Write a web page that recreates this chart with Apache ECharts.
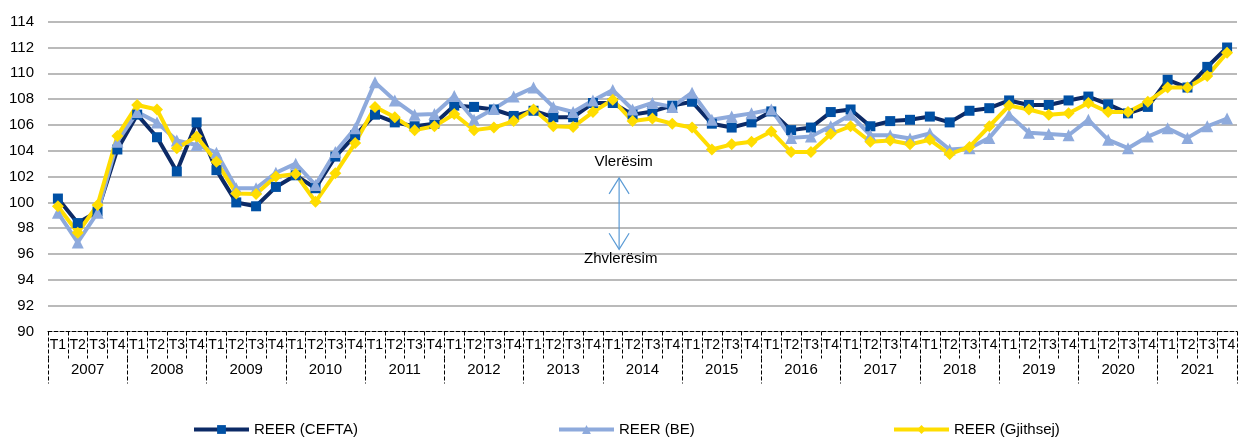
<!DOCTYPE html>
<html>
<head>
<meta charset="utf-8">
<title>REER</title>
<style>
    html, body { margin: 0; padding: 0; background: #fff; }
    .chart { width: 1240px; height: 438px; }
</style>
<script src="https://cdn.jsdelivr.net/npm/echarts@6/dist/echarts.min.js"></script>
</head>
<body>
<div class="chart"></div>
<script>
// data
var years = ["2007", "2008", "2009", "2010", "2011", "2012", "2013", "2014",
    "2015", "2016", "2017", "2018", "2019", "2020", "2021"];
var quarterNames = ["T1", "T2", "T3", "T4"];
var yTicks = [90, 92, 94, 96, 98, 100, 102, 104, 106, 108, 110, 112, 114];

var reerCefta = [
    100.3, 98.4, 99.3, 104.1,
    106.8, 105.05, 102.4, 106.2,
    102.5, 100.0, 99.7, 101.2,
    102.1, 101.1, 103.55, 105.2,
    106.8, 106.2, 105.9, 106.1,
    107.5, 107.4, 107.2, 106.7,
    107.1, 106.6, 106.6, 107.7,
    107.7, 106.8, 107.05, 107.5,
    107.8, 106.1, 105.8, 106.2,
    107.05, 105.6, 105.8, 107.0,
    107.2, 105.9, 106.3, 106.4,
    106.65, 106.2, 107.1, 107.3,
    107.9, 107.55, 107.55, 107.9,
    108.2, 107.6, 106.9, 107.4,
    109.5, 108.9, 110.5, 112.0
];
var reerBe = [
    99.2, 96.9, 99.2, 104.7,
    107.0, 106.2, 104.8, 104.45,
    103.85, 101.1, 101.1, 102.3,
    103.0, 101.35, 103.9, 105.75,
    109.3, 107.9, 106.8, 106.85,
    108.25, 106.4, 107.25, 108.2,
    108.9, 107.4, 107.0, 107.9,
    108.7, 107.2, 107.7, 107.4,
    108.5, 106.4, 106.65, 106.9,
    107.2, 105.0, 105.1, 105.9,
    106.8, 105.2, 105.2, 104.95,
    105.35, 104.1, 104.2, 105.0,
    106.8, 105.4, 105.3, 105.2,
    106.4, 104.85, 104.2, 105.1,
    105.75, 105.0, 105.9, 106.5
];
var reerTotal = [
    99.7, 97.65, 99.8, 105.15,
    107.55, 107.2, 104.2, 105.1,
    103.15, 100.7, 100.65, 102.0,
    102.2, 100.05, 102.25, 104.6,
    107.4, 106.6, 105.6, 105.9,
    106.85, 105.6, 105.8, 106.3,
    107.2, 105.9, 105.85, 107.0,
    107.95, 106.3, 106.5, 106.1,
    105.8, 104.1, 104.5, 104.7,
    105.5, 103.9, 103.9, 105.3,
    105.9, 104.7, 104.8, 104.5,
    104.85, 103.75, 104.3, 105.9,
    107.5, 107.2, 106.8, 106.9,
    107.7, 107.0, 107.0, 107.8,
    108.9, 108.9, 109.8, 111.6
];

(function() {
    var font = "'Liberation Sans', Arial, sans-serif";
    var dash = [4, 2];

    // one category per quarter, labelled T1..T4
    var quarters = [];
    years.forEach(function(y) {
        quarterNames.forEach(function(q) {
            quarters.push(q);
        });
    });

    var myChart = echarts.init(document.querySelector(".chart"));

    function seriesOf(name, data, lineColor, markColor, symbol, size) {
        return {
            name: name,
            type: "line",
            data: data,
            symbol: symbol,
            symbolSize: size,
            lineStyle: { color: lineColor, width: 4 },
            itemStyle: { color: markColor },
            emphasis: { disabled: true },
            animation: false
        };
    }

    function legendAt(name, left) {
        return {
            data: [name],
            left: left,
            top: 422,
            padding: 0,
            itemWidth: 55,
            itemHeight: 11,
            lineStyle: { width: 4 },
            textStyle: { fontFamily: font, fontSize: 15, color: "#000" }
        };
    }

    var option = {
        backgroundColor: "#fff",
        animation: false,
        grid: { left: 48, right: 3, top: 21.7, bottom: 106.5 },
        legend: [
            legendAt("REER (CEFTA)", 192),
            legendAt("REER (BE)", 557),
            legendAt("REER (Gjithsej)", 892)
        ],
        xAxis: [{
            type: "category",
            data: quarters,
            boundaryGap: true,
            axisLine: { lineStyle: { color: "#000", width: 1, type: dash } },
            axisTick: {
                show: true,
                interval: 0,
                length: 27,
                lineStyle: { color: "#000", type: dash }
            },
            axisLabel: {
                interval: 0,
                margin: 7,
                fontFamily: font,
                fontSize: 14,
                color: "#000"
            }
        }, {
            // second row: years
            type: "category",
            data: years,
            position: "bottom",
            offset: 27,
            boundaryGap: true,
            axisLine: { show: false },
            axisTick: {
                show: true,
                interval: 0,
                length: 25,
                lineStyle: { color: "#000", type: dash }
            },
            axisLabel: {
                interval: 0,
                margin: 4,
                fontFamily: font,
                fontSize: 15,
                color: "#000"
            }
        }],
        yAxis: {
            type: "value",
            min: yTicks[0],
            max: yTicks[yTicks.length - 1],
            interval: yTicks[1] - yTicks[0],
            axisLine: { show: false },
            axisTick: { show: false },
            axisLabel: {
                margin: 14,
                fontFamily: font,
                fontSize: 15,
                color: "#000"
            },
            splitLine: {
                showMinLine: false,
                lineStyle: { color: "#a3a3a3", width: 1.5 }
            }
        },
        series: [
            seriesOf("REER (CEFTA)", reerCefta, "#0c2a66", "#0050a4", "rect", 10),
            seriesOf("REER (BE)", reerBe, "#8eaadc", "#8eaadc", "triangle", 12),
            seriesOf("REER (Gjithsej)", reerTotal, "#ffdd00", "#ffdd00", "diamond", 12)
        ]
    };
    myChart.setOption(option);

    // annotation: double arrow between the two labels
    function px(ix, v) {
        var a = myChart.convertToPixel({ xAxisIndex: 0, yAxisIndex: 0 }, [Math.floor(ix), v]);
        var b = myChart.convertToPixel({ xAxisIndex: 0, yAxisIndex: 0 }, [Math.floor(ix) + 1, v]);
        var f = ix - Math.floor(ix);
        return [a[0] + (b[0] - a[0]) * f, a[1]];
    }
    var top = px(28.32, 101.9);
    var bot = px(28.32, 96.37);
    var upText = px(28.55, 103.15);
    var downText = px(28.4, 95.6);
    var arrowColor = "#5b9bd5";
    var head = { stroke: arrowColor, lineWidth: 1.2, fill: null };
    var textStyle = {
        fontFamily: font,
        fontSize: 15,
        fill: "#000",
        align: "center",
        verticalAlign: "middle"
    };
    myChart.setOption({
        graphic: [{
            type: "line",
            shape: { x1: top[0], y1: top[1], x2: bot[0], y2: bot[1] },
            style: head
        }, {
            type: "polyline",
            shape: { points: [[top[0] - 10, top[1] + 16], [top[0], top[1]], [top[0] + 10, top[1] + 16]] },
            style: head
        }, {
            type: "polyline",
            shape: { points: [[bot[0] - 10, bot[1] - 16], [bot[0], bot[1]], [bot[0] + 10, bot[1] - 16]] },
            style: head
        }, {
            type: "text",
            x: upText[0],
            y: upText[1],
            style: Object.assign({ text: "Vlerësim" }, textStyle)
        }, {
            type: "text",
            x: downText[0],
            y: downText[1],
            style: Object.assign({ text: "Zhvlerësim" }, textStyle)
        }]
    });

    window.addEventListener("resize", function() {
        myChart.resize();
    });
})();
</script>
</body>
</html>
